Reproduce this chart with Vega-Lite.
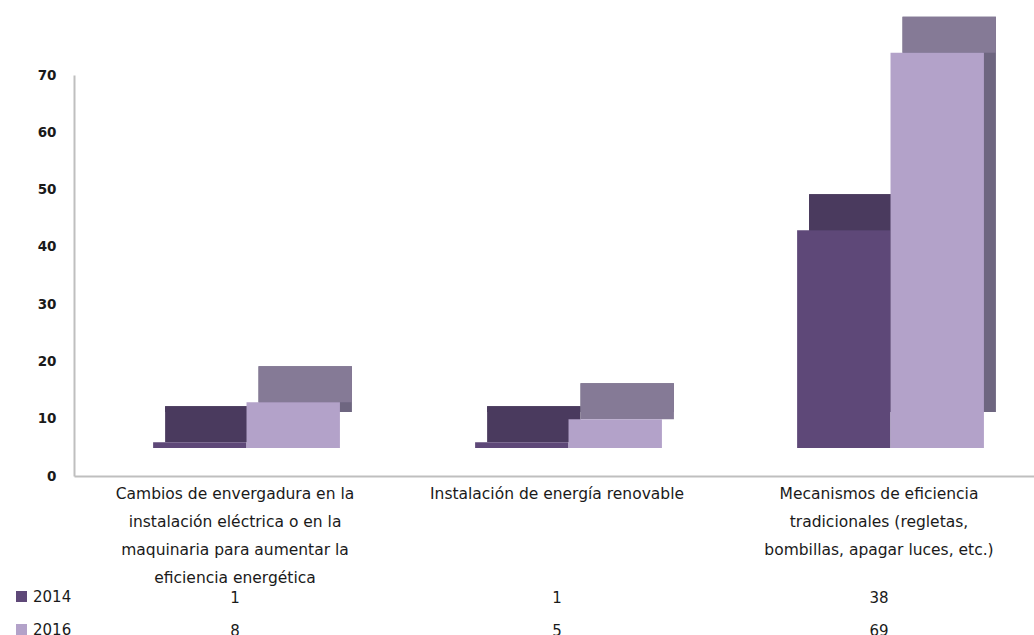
{
  "$schema": "https://vega.github.io/schema/vega-lite/v6.json",
  "background": "white",
  "padding": {"left": 14, "top": 16, "right": 0, "bottom": 0},
  "config": {"view": {"stroke": null}, "font": "DejaVu Sans"},
  "data": {"values": [
    {"category": "Cambios de envergadura en la instalación eléctrica o en la maquinaria para aumentar la eficiencia energética", "year": "2014", "value": 1},
    {"category": "Instalación de energía renovable", "year": "2014", "value": 1},
    {"category": "Mecanismos de eficiencia tradicionales (regletas, bombillas, apagar luces, etc.)", "year": "2014", "value": 38},
    {"category": "Cambios de envergadura en la instalación eléctrica o en la maquinaria para aumentar la eficiencia energética", "year": "2016", "value": 8},
    {"category": "Instalación de energía renovable", "year": "2016", "value": 5},
    {"category": "Mecanismos de eficiencia tradicionales (regletas, bombillas, apagar luces, etc.)", "year": "2016", "value": 69}
  ]},
  "resolve": {"scale": {"color": "independent"}, "legend": {"color": "independent"}},
  "bounds": "flush",
  "spacing": 105,
  "vconcat": [
    {
      "width": 966,
      "height": 401,
      "encoding": {
        "x": {
          "field": "category", "type": "nominal", "sort": null,
          "scale": {"paddingInner": 0.42, "paddingOuter": 0.21},
          "axis": {
            "title": null, "ticks": false, "domainColor": "#bfbfbf", "domainWidth": 2,
            "labelAngle": 0, "labelPadding": 10, "labelFontSize": 15.5,
            "labelColor": "#1a1a1a", "labelLineHeight": 28, "labelBaseline": "top",
            "labelLimit": 0, "labelOverlap": false,
            "labelExpr": "indexof(datum.value, 'Cambios') == 0 ? ['Cambios de envergadura en la', 'instalación eléctrica o en la', 'maquinaria para aumentar la', 'eficiencia energética'] : indexof(datum.value, 'Mecanismos') == 0 ? ['Mecanismos de eficiencia', 'tradicionales (regletas,', 'bombillas, apagar luces, etc.)'] : datum.value"
          }
        },
        "y": {
          "field": "value", "type": "quantitative",
          "scale": {"domain": [0, 70], "nice": false},
          "axis": {
            "title": null, "ticks": false, "grid": false, "domainColor": "#bfbfbf", "domainWidth": 2,
            "values": [0, 10, 20, 30, 40, 50, 60, 70], "labelPadding": 18, "labelFontSize": 13.5,
            "labelFontWeight": "bold", "labelColor": "#1a1a1a"
          }
        }
      },
      "resolve": {"scale": {"xOffset": "independent"}},
      "layer": [
        {
          "mark": {"type": "bar", "yOffset": -64, "y2Offset": -62},
          "encoding": {
            "xOffset": {"field": "year", "type": "nominal", "scale": {"range": [23.5, 210.3], "paddingInner": 0, "paddingOuter": 0}},
            "fill": {"condition": {"test": "datum.year == '2014'", "value": "#3f3350"}, "value": "#6e6680"}
          }
        },
        {
          "mark": {"type": "bar", "yOffset": -64, "y2Offset": -28},
          "encoding": {
            "xOffset": {"field": "year", "type": "nominal", "scale": {"range": [23.5, 210.3], "paddingInner": 0, "paddingOuter": 0}},
            "y2": {"field": "value"},
            "fill": {"condition": {"test": "datum.year == '2014'", "value": "#4a3a5e"}, "value": "#857a96"}
          }
        },
        {
          "mark": {"type": "bar", "yOffset": -28, "y2Offset": -26},
          "encoding": {
            "xOffset": {"field": "year", "type": "nominal", "scale": {"range": [11.5, 198.3], "paddingInner": 0, "paddingOuter": 0}},
            "color": {
              "field": "year", "type": "nominal",
              "scale": {"domain": ["2014", "2016"], "range": ["#5e4878", "#b3a2c9"]},
              "legend": {
                "title": null, "orient": "none", "legendX": -60, "legendY": 514,
                "symbolType": "square", "symbolSize": 121, "symbolStrokeWidth": 0,
                "labelFontSize": 15, "labelColor": "#1a1a1a",
                "rowPadding": 17, "labelOffset": 4
              }
            }
          }
        }
      ]
    },
    {
      "width": 966,
      "height": 66,
      "mark": {"type": "text", "fontSize": 15, "color": "#1a1a1a"},
      "encoding": {
        "x": {"field": "category", "type": "nominal", "sort": null, "axis": null,
              "scale": {"paddingInner": 0.42, "paddingOuter": 0.21}},
        "y": {"field": "year", "type": "nominal", "axis": null},
        "text": {"field": "value", "type": "quantitative"}
      }
    }
  ]
}
